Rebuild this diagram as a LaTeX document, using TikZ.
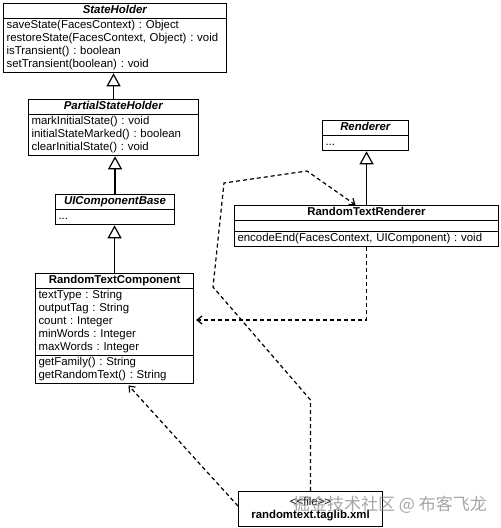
\documentclass[tikz,border=0pt]{standalone}
\usepackage{fontspec}
\setmainfont{Liberation Sans}
\newfontfamily\cjkfont{Noto Sans CJK SC}
\setlength\parindent{0pt}
\frenchspacing
\usetikzlibrary{shapes.multipart,arrows.meta}
\tikzset{>={Straight Barb[length=5pt,width=8pt]}}
\tikzset{
  umlclass/.style={draw,line width=1.1pt,rectangle split,rectangle split parts=#1,
    anchor=north west,inner xsep=3pt,inner ysep=0.5pt,align=left,
    font=\fontsize{11.4}{13}\selectfont},
  umlclass/.default=2,
  depends/.style={->,line width=1.2pt,dash pattern=on 4pt off 3pt},
  extends/.style={-{Triangle[open,length=13pt,width=14pt,fill=white]},line width=1.2pt},
  wmark/.style={text=black!50,opacity=.7,font=\cjkfont\fontsize{17}{17}\selectfont}
}
\newcommand{\umltitle}[1]{\strut\hspace*{0pt plus 1filll}\textbf{#1}\hspace*{0pt plus 1filll}\strut}
\newcommand{\umllines}[1]{\strut#1\strut}

\begin{document}
\begin{tikzpicture}[x=1pt,y=-1pt]
\useasboundingbox (0,0) rectangle (501,528);

\node[umlclass,text width=217pt] (sh) at (3,3)
  {\umltitle{\textit{StateHolder}}
   \nodepart{two}\umllines{saveState(FacesContext) : Object\\
   restoreState(FacesContext, Object) : void\\
   isTransient() : boolean\\
   setTransient(boolean) : void}};
\node[umlclass,text width=164pt] (ptsh) at (28,99)
  {\umltitle{\textit{PartialStateHolder}}
   \nodepart{two}\umllines{markInitialState() : void\\
   initialStateMarked() : boolean\\
   clearInitialState() : void}};
\node[umlclass,text width=113pt] (uicb) at (55,194)
  {\umltitle{\textit{UIComponentBase}}
   \nodepart{two}\umllines{...}};
\node[umlclass=3,text width=152pt] (rtc) at (35,273)
  {\umltitle{RandomTextComponent}
   \nodepart{two}\umllines{textType : String\\
   outputTag : String\\
   count : Integer\\
   minWords : Integer\\
   maxWords : Integer}
   \nodepart{three}\umllines{getFamily() : String\\
   getRandomText() : String}};
\node[umlclass,text width=80pt] (rend) at (322,120)
  {\umltitle{\textit{Renderer}}
   \nodepart{two}\umllines{...}};
\node[umlclass=3,text width=258pt] (rtr) at (234,205)
  {\umltitle{RandomTextRenderer}
   \nodepart{two}\rule{0pt}{9pt}
   \nodepart{three}\umllines{encodeEnd(FacesContext, UIComponent) : void}};
\node[draw,line width=1.1pt,anchor=north west,minimum width=144pt,minimum height=35pt,
  inner sep=2pt,align=center,font=\fontsize{11.4}{13}\selectfont] (xml) at (238,491)
  {<\kern0pt<file>\kern0pt>\\\textbf{randomtext.taglib.xml}};

\foreach \sub/\super in {ptsh/sh,uicb/ptsh,rtc/uicb,rtr/rend}
  \draw[extends] (\sub.north) -- (\sub.north |- \super.south);

\path
  (310,400) coordinate (P1)
  (213,287) coordinate (P2)
  (224,183) coordinate (P3)
  (307,171) coordinate (P4)
  (0,320) coordinate (Q1);

\draw[depends] (xml.north) -- (xml.north |- P1) -- (P2) -- (P3) -- (P4) --
  ([xshift=-11pt]rtr.north);
\draw[depends,shorten >=2pt] (rtr.south) -- (rtr.south |- Q1) -- (rtc.east |- Q1);
\draw[depends] ([yshift=3pt]xml.west) -- ([xshift=14pt,yshift=-1pt]rtc.south);

\node[wmark] (wm) at (390,505) {掘金技术社区 @ 布客飞龙};
\end{tikzpicture}
\end{document}
